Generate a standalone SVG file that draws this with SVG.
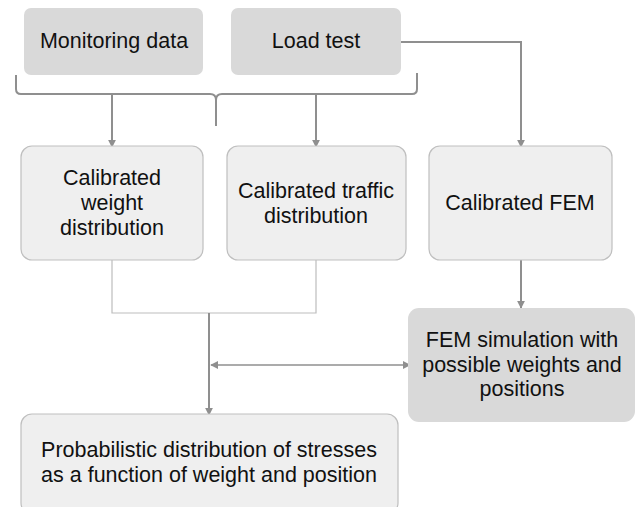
<svg xmlns="http://www.w3.org/2000/svg" width="638" height="507" viewBox="0 0 638 507">
<defs>
<style>
.dark{fill:#d9d9d9;stroke:none}
.light{fill:#efefef;stroke:#bfbfbf;stroke-width:1.2}
text{font-family:"Liberation Sans",Arial,sans-serif;font-size:21.5px;fill:#111111;text-anchor:middle}
.conn{fill:none;stroke:#8f8f8f;stroke-width:2}
.mid{fill:none;stroke:#8f8f8f;stroke-width:1.6}
.thin{fill:none;stroke:#bdbdbd;stroke-width:1.2}
</style>
<marker id="ah" viewBox="0 0 10 10" refX="9" refY="5" markerWidth="8" markerHeight="8" orient="auto-start-reverse" markerUnits="userSpaceOnUse">
<path d="M0,0 L10,5 L0,10 z" fill="#8f8f8f"/>
</marker>
</defs>
<rect width="638" height="507" fill="#ffffff"/>
<g id="connectors">
<path class="conn" d="M16,75 L16,89 Q16,94 21,94 L210,94 Q216,94 216,100 L216,126 M216,100 Q216,94 222,94 L412,94 Q417,94 417,89 L417,73"/>
<path class="conn" d="M112,94 L112,147" marker-end="url(#ah)"/>
<path class="conn" d="M316,94 L316,147" marker-end="url(#ah)"/>
<path class="conn" d="M401,42 L521,42 L521,147" marker-end="url(#ah)"/>
<path class="thin" d="M112,260 L112,313 L316,313 L316,260"/>
<path class="conn" d="M209,313 L209,415" marker-end="url(#ah)"/>
<path class="mid" d="M211,365 L410,365" marker-start="url(#ah)" marker-end="url(#ah)"/>
<path class="conn" d="M521,260 L521,308" marker-end="url(#ah)"/>
</g>
<g id="monitoring">
<rect class="dark" x="24" y="8" width="179" height="67" rx="7"/>
<text x="114" y="48">Monitoring data</text>
</g>
<g id="loadtest">
<rect class="dark" x="231" y="8" width="170" height="67" rx="7"/>
<text x="316" y="48">Load test</text>
</g>
<g id="weight">
<rect class="light" x="21" y="146" width="182" height="114" rx="11"/>
<text x="112" y="185">Calibrated</text>
<text x="112" y="210">weight</text>
<text x="112" y="235">distribution</text>
</g>
<g id="traffic">
<rect class="light" x="227" y="146" width="179" height="114" rx="11"/>
<text x="316" y="198">Calibrated traffic</text>
<text x="316" y="223">distribution</text>
</g>
<g id="fem">
<rect class="light" x="429" y="146" width="183" height="114" rx="11"/>
<text x="520" y="210">Calibrated FEM</text>
</g>
<g id="femsim">
<rect class="dark" x="408" y="308" width="227" height="114" rx="11"/>
<text x="522" y="347">FEM simulation with</text>
<text x="522" y="371.5">possible weights and</text>
<text x="522" y="396">positions</text>
</g>
<g id="prob">
<rect class="light" x="21" y="414" width="377" height="100" rx="11"/>
<text x="209" y="457">Probabilistic distribution of stresses</text>
<text x="209" y="482">as a function of weight and position</text>
</g>
</svg>
